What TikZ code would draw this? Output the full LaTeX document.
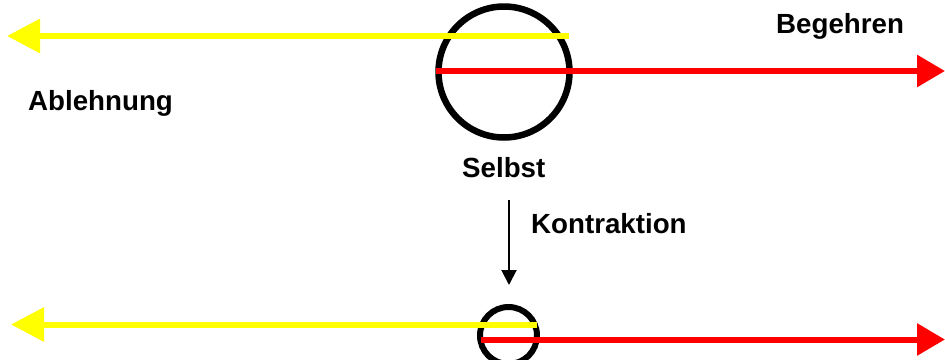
\documentclass[tikz,border=0pt]{standalone}
\usepackage{fontspec}
\setmainfont{Liberation Sans}
\usetikzlibrary{arrows.meta}
\definecolor{ylw}{RGB}{255,255,0}
\definecolor{rd}{RGB}{255,0,0}
\tikzset{
  ring/.style={circle, draw=black, inner sep=0pt},
  beam/.style={line width=6pt},
  yellowbeam/.style={beam, draw=ylw, -{Triangle[length=33pt,width=33pt]}},
  redbeam/.style={beam, draw=rd, -{Triangle[length=28pt,width=31pt]}},
  lbl/.style={anchor=base west, inner sep=0pt, font=\bfseries\fontsize{27.7}{33}\selectfont},
}
\begin{document}
\begin{tikzpicture}[x=1pt, y=-1pt]
  \useasboundingbox (0,0) rectangle (945,359);

  % the self, large and contracted
  \node[ring, line width=6.5pt, minimum size=131pt] (self) at (504,72) {};
  \node[ring, line width=6pt, minimum size=57pt] (small) at (508.5,335.5) {};

  % upper pair of beams
  \coordinate (yA) at (569,36);
  \coordinate (yB) at (7,36);
  \coordinate (rA) at (436,71);
  \coordinate (rB) at (945,71);
  \draw[yellowbeam] (yA) -- (yB);
  \draw[redbeam] (rA) -- (rB);

  % lower pair of beams
  \coordinate (yC) at (537,324.5);
  \coordinate (yD) at (11,324.5);
  \coordinate (rC) at (481,339.5);
  \coordinate (rD) at (945,339.5);
  \draw[yellowbeam] (yC) -- (yD);
  \draw[redbeam] (rC) -- (rD);

  % labels
  \node[lbl] (beg) at (776,33) {Begehren};
  \node[lbl] (abl) at (28,110) {Ablehnung};
  \node[lbl] (sel) at (462,177) {Selbst};
  \node[lbl] (kon) at (531,233) {Kontraktion};

  % contraction arrow
  \coordinate (kTop) at (509,200);
  \coordinate (kEnd) at (509,285);
  \draw[line width=2pt, -{Triangle[length=15pt,width=15pt]}] (kTop) -- (kEnd);
\end{tikzpicture}
\end{document}
